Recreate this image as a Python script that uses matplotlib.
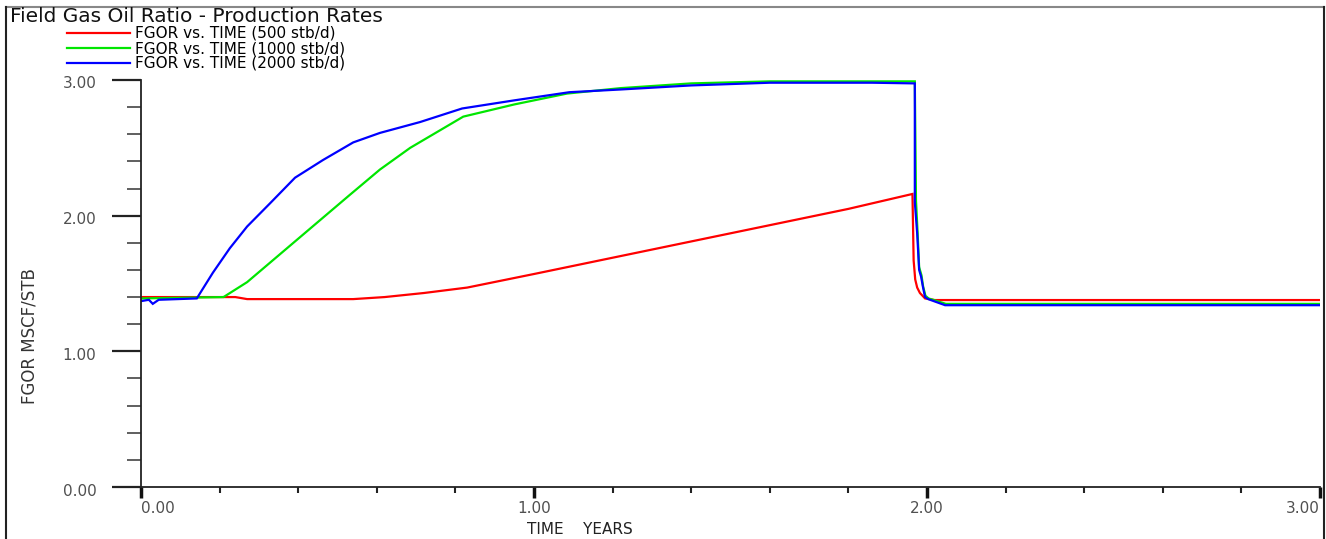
import matplotlib
matplotlib.use("Agg")
import matplotlib.pyplot as plt
from matplotlib.lines import Line2D
from matplotlib.ticker import MultipleLocator, FixedLocator
from matplotlib.transforms import ScaledTranslation

# field GOR (MSCF/STB) vs time (years) for three production rates
t_500 = [0.0, 0.24, 0.27, 0.54, 0.62, 0.72, 0.83, 1.0, 1.2, 1.4, 1.6, 1.8,
         1.963, 1.966, 1.97, 1.975, 1.982, 1.995, 2.02, 3.0]
gor_500 = [1.40, 1.40, 1.385, 1.385, 1.40, 1.43, 1.47, 1.57, 1.69, 1.81, 1.93, 2.05,
           2.16, 1.67, 1.53, 1.47, 1.43, 1.39, 1.378, 1.378]

t_1000 = [0.0, 0.21, 0.27, 0.40, 0.53, 0.608, 0.685, 0.82, 0.95, 1.084, 1.22, 1.4,
          1.6, 1.969, 1.972, 1.976, 1.98, 1.986, 1.99, 1.996, 2.004, 2.048, 3.0]
gor_1000 = [1.39, 1.40, 1.51, 1.83, 2.15, 2.34, 2.50, 2.73, 2.82, 2.90, 2.94, 2.975,
            2.99, 2.99, 2.11, 1.88, 1.62, 1.56, 1.48, 1.41, 1.39, 1.35, 1.35]

t_2000 = [0.0, 0.02, 0.03, 0.045, 0.142, 0.183, 0.226, 0.27, 0.328, 0.392, 0.463,
          0.54, 0.608, 0.71, 0.817, 0.95, 1.09, 1.22, 1.4, 1.6, 1.86, 1.969, 1.969,
          1.975, 1.98, 1.985, 1.99, 1.995, 2.003, 2.046, 3.0]
gor_2000 = [1.37, 1.38, 1.35, 1.38, 1.39, 1.58, 1.76, 1.92, 2.09, 2.28, 2.41,
            2.54, 2.61, 2.69, 2.79, 2.85, 2.91, 2.93, 2.96, 2.98, 2.98, 2.975, 2.10,
            1.87, 1.60, 1.55, 1.47, 1.40, 1.385, 1.34, 1.34]

labels = ["FGOR vs. TIME (500 stb/d)",
          "FGOR vs. TIME (1000 stb/d)",
          "FGOR vs. TIME (2000 stb/d)"]
colors = ["#ff0000", "#00e600", "#0000ff"]

major_ticks = [0.0, 1.0, 2.0, 3.0]
tick_text = ["0.00", "1.00", "2.00", "3.00"]

W, H = 1326, 539
fig = plt.figure(figsize=(W / 100, H / 100), dpi=100)
ax = fig.add_axes([141 / W, 1 - 487 / H, (1320 - 141) / W, (487 - 80) / H])

for t, g, lab, c in zip([t_500, t_1000, t_2000], [gor_500, gor_1000, gor_2000], labels, colors):
    ax.plot(t, g, color=c, lw=1.6, label=lab, solid_joinstyle="miter")

ax.set_xlim(0, 3)
ax.set_ylim(0, 3)
for s in ["top", "right"]:
    ax.spines[s].set_visible(False)
for s in ["left", "bottom"]:
    ax.spines[s].set_color("#222222")
    ax.spines[s].set_linewidth(1.3)

ax.xaxis.set_major_locator(FixedLocator(major_ticks))
ax.yaxis.set_major_locator(FixedLocator(major_ticks))
ax.xaxis.set_minor_locator(MultipleLocator(0.2))
ax.yaxis.set_minor_locator(MultipleLocator(0.2))
ax.set_xticklabels(tick_text)
ax.set_yticklabels(tick_text)

ax.tick_params(axis="x", which="major", direction="out", length=8, width=2.5,
               color="#111111", pad=2, labelsize=11, labelcolor="#505050")
ax.tick_params(axis="x", which="minor", direction="out", length=4, width=1.5,
               color="#222222")
ax.tick_params(axis="y", which="major", direction="out", length=21, width=1.6,
               color="#222222", pad=11, labelsize=11, labelcolor="#505050")
ax.tick_params(axis="y", which="minor", direction="out", length=10, width=1.2,
               color="#444444")

# y labels sit just below their tick
shift = ScaledTranslation(0, -4 / 100, fig.dpi_scale_trans)
for lbl in ax.get_yticklabels():
    lbl.set_va("center")
    lbl.set_transform(lbl.get_transform() + shift)
xl = ax.get_xticklabels()
xl[0].set_ha("left")
xl[-1].set_ha("right")

fig.text(10 / W, 1 - 17 / H, "Field Gas Oil Ratio - Production Rates",
         fontsize=14.5, color="#111111", va="center", ha="left")
fig.text(580 / W, 1 - 530 / H, "TIME    YEARS", fontsize=11, color="#222222",
         ha="center", va="center")
fig.text(30 / W, 1 - 336 / H, "FGOR MSCF/STB", rotation=90, fontsize=12,
         color="#333333", ha="center", va="center")

fig.legend(loc="upper left", bbox_to_anchor=(67 / W, 1 - 26 / H), frameon=False,
           fontsize=11, handlelength=4.1, handletextpad=0.35, borderpad=0,
           borderaxespad=0, labelspacing=0.0)

# outer frame
fig.add_artist(Line2D([6 / W, 1324 / W], [1 - 7 / H, 1 - 7 / H],
                      transform=fig.transFigure, color="#888888", lw=1.5))
fig.add_artist(Line2D([6 / W, 6 / W], [0, 1 - 7 / H],
                      transform=fig.transFigure, color="#222222", lw=1.5))
fig.add_artist(Line2D([1324 / W, 1324 / W], [0, 1 - 7 / H],
                      transform=fig.transFigure, color="#222222", lw=1.5))

fig.savefig("out.png", dpi=100)
